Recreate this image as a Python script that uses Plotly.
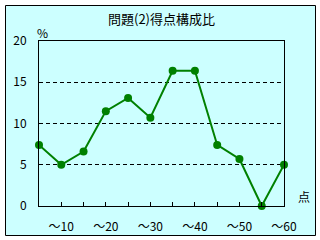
import plotly.graph_objects as go

categories = list(range(12))
values = [7.4, 5.0, 6.6, 11.5, 13.1, 10.7, 16.4, 16.4, 7.4, 5.7, 0.0, 5.0]
tick_labels = ["", "～10", "", "～20", "", "～30", "", "～40", "", "～50", "", "～60"]
title_text = "問題(2)得点構成比"

FONT = "Noto Sans CJK JP"
CYAN = "#CCFFFF"
GREEN = "#008000"

fig = go.Figure()
fig.add_trace(go.Scatter(
    x=categories, y=values, mode="lines+markers",
    line=dict(color=GREEN, width=2),
    marker=dict(color=GREEN, size=8, symbol="circle"),
    cliponaxis=False, showlegend=False, hoverinfo="skip"))

fig.update_layout(
    width=320, height=240,
    margin=dict(l=39, r=36, t=41, b=34),
    paper_bgcolor="white", plot_bgcolor=CYAN,
    font=dict(family=FONT, size=12, color="black"),
    xaxis=dict(range=[0, 11], tickmode="array", tickvals=categories, ticktext=tick_labels,
               ticks="inside", ticklen=4, tickcolor="black", showgrid=False, zeroline=False,
               showline=True, linecolor="black", linewidth=1, mirror=True, automargin=False,
               ticklabelstandoff=10, tickfont=dict(size=12)),
    yaxis=dict(range=[0, 20], tickmode="array", tickvals=[0, 5, 10, 15, 20],
               ticks="", showgrid=True, gridcolor="black", gridwidth=1, griddash="4px,3px",
               zeroline=False, showline=True, linecolor="black", linewidth=1, mirror=True,
               automargin=False, ticklabelstandoff=9, tickfont=dict(size=12)),
    shapes=[dict(type="rect", xref="paper", yref="paper",
                 x0=(5.5 - 39) / 245, x1=(315.5 - 39) / 245,
                 y0=(206 - 235.5) / 165, y1=(206 - 5.5) / 165,
                 line=dict(color="black", width=1), fillcolor=CYAN, layer="below")],
    annotations=[
        dict(text=title_text, xref="paper", yref="paper", x=0.5, y=(206 - 18) / 165,
             showarrow=False, font=dict(size=13), xanchor="center", yanchor="middle"),
        dict(text="%", xref="paper", yref="paper", x=(42 - 39) / 245, y=(206 - 33) / 165,
             showarrow=False, font=dict(size=12), xanchor="center", yanchor="middle"),
        dict(text="点", xref="paper", yref="paper", x=(304 - 39) / 245, y=(206 - 196) / 165,
             showarrow=False, font=dict(size=12), xanchor="center", yanchor="middle"),
    ],
)

fig.write_html("out.html")
